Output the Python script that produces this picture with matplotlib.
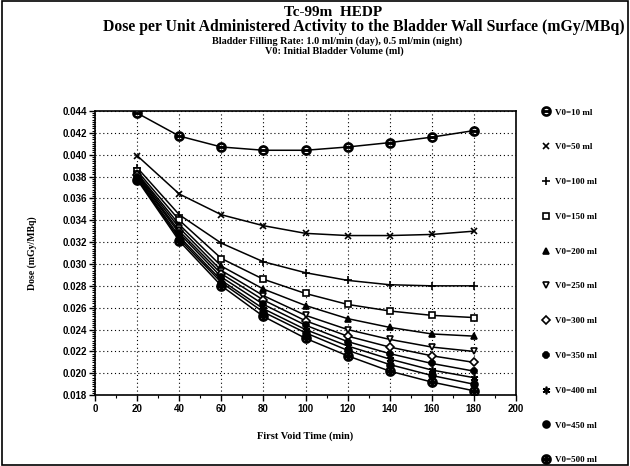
import matplotlib
matplotlib.use("Agg")
import matplotlib.pyplot as plt
from matplotlib.lines import Line2D
from matplotlib.patches import Rectangle
from matplotlib.ticker import MultipleLocator, FormatStrFormatter

# first void time (min)
void_time = [20, 40, 60, 80, 100, 120, 140, 160, 180]

# initial bladder volume labels
volumes = ["V0=10 ml", "V0=50 ml", "V0=100 ml", "V0=150 ml", "V0=200 ml", "V0=250 ml",
           "V0=300 ml", "V0=350 ml", "V0=400 ml", "V0=450 ml", "V0=500 ml"]

# dose per unit administered activity (mGy/MBq)
dose_v10 = [0.0438, 0.0417, 0.0407, 0.0404, 0.0404, 0.0407, 0.0411, 0.0416, 0.0422]
dose_v50 = [0.0399, 0.0364, 0.0345, 0.0335, 0.0328, 0.0326, 0.0326, 0.0327, 0.0330]
dose_v100 = [0.0388, 0.0345, 0.0319, 0.0302, 0.0292, 0.0285, 0.0281, 0.0280, 0.0280]
dose_v150 = [0.0385, 0.0340, 0.0305, 0.0286, 0.0273, 0.0263, 0.0257, 0.0253, 0.0251]
dose_v200 = [0.0383, 0.0336, 0.0298, 0.0277, 0.0262, 0.0250, 0.0242, 0.0236, 0.0234]
dose_v250 = [0.0382, 0.0333, 0.0294, 0.0271, 0.0253, 0.0240, 0.0231, 0.0224, 0.0220]
dose_v300 = [0.0381, 0.0330, 0.0291, 0.0267, 0.0248, 0.0234, 0.0224, 0.0216, 0.0210]
dose_v350 = [0.0380, 0.0328, 0.0288, 0.0263, 0.0244, 0.0229, 0.0218, 0.0209, 0.0202]
dose_v400 = [0.0379, 0.0325, 0.0285, 0.0259, 0.0240, 0.0225, 0.0213, 0.0203, 0.0196]
dose_v450 = [0.0378, 0.0323, 0.0283, 0.0256, 0.0237, 0.0221, 0.0208, 0.0198, 0.0190]
dose_v500 = [0.0377, 0.0321, 0.0280, 0.0252, 0.0232, 0.0216, 0.0202, 0.0192, 0.0184]

series = [dose_v10, dose_v50, dose_v100, dose_v150, dose_v200, dose_v250,
          dose_v300, dose_v350, dose_v400, dose_v450, dose_v500]

# (marker, filled, size)
markers = [
    (r"$\ominus$", True, 6.5), ("x", False, 4.5), ("+", False, 5.5), ("s", False, 4.5),
    ("^", True, 4.5), ("v", False, 5), ("D", False, 4), ("8", True, 4.5),
    ((6, 2, 0), False, 5.5), ("o", True, 5), (r"$\oplus$", True, 6.5),
]

serif = ["Liberation Serif", "DejaVu Serif"]

fig = plt.figure(figsize=(6.3, 4.66), dpi=100)
fig.patch.set_facecolor("white")
fig.patches.append(Rectangle((0.003, 0.003), 0.994, 0.994, transform=fig.transFigure,
                             fill=False, edgecolor="black", linewidth=1.2))

ax = fig.add_axes([0.151, 0.152, 0.668, 0.610])

handles = []
for vals, (mk, filled, ms), lab in zip(series, markers, volumes):
    face = "black" if filled else "white"
    ax.plot(void_time, vals, color="black", linewidth=1.1, marker=mk, markersize=ms,
            markerfacecolor=face, markeredgecolor="black", markeredgewidth=1.2, zorder=3)
    handles.append(Line2D([], [], linestyle="none", marker=mk, markersize=ms,
                          markerfacecolor=face, markeredgecolor="black",
                          markeredgewidth=1.2, label=lab))

ax.set_xlim(0, 200)
ax.set_ylim(0.018, 0.044)
ax.xaxis.set_major_locator(MultipleLocator(20))
ax.xaxis.set_minor_locator(MultipleLocator(10))
ax.yaxis.set_major_locator(MultipleLocator(0.002))
ax.yaxis.set_minor_locator(MultipleLocator(0.0002))
ax.yaxis.set_major_formatter(FormatStrFormatter("%.3f"))
ax.grid(True, which="major", linestyle=(0, (1, 2.5)), color="black", linewidth=0.8)
ax.set_axisbelow(True)

ax.tick_params(which="major", direction="out", length=4, width=1, labelsize=7, pad=2)
ax.tick_params(which="minor", direction="out", length=2, width=0.8)
for lab in ax.get_xticklabels() + ax.get_yticklabels():
    lab.set_fontweight("bold")
    lab.set_family(["Liberation Sans", "DejaVu Sans"])
for sp in ax.spines.values():
    sp.set_linewidth(1.2)

ax.set_xlabel("First Void Time (min)", fontsize=7.5, fontweight="bold", family=serif, labelpad=13)
ax.set_ylabel("Dose (mGy/MBq)", fontsize=7, fontweight="bold", family=serif, labelpad=18)

fig.text(0.528, 0.974, "Tc-99m  HEDP", ha="center", va="center", fontsize=11,
         fontweight="bold", family=serif)
fig.text(0.577, 0.942, "Dose per Unit Administered Activity to the Bladder Wall Surface (mGy/MBq)",
         ha="center", va="center", fontsize=11.3, fontweight="bold", family=serif)
fig.text(0.535, 0.911, "Bladder Filling Rate: 1.0 ml/min (day), 0.5 ml/min (night)",
         ha="center", va="center", fontsize=7.3, fontweight="bold", family=serif)
fig.text(0.530, 0.890, "V0: Initial Bladder Volume (ml)", ha="center", va="center",
         fontsize=7.3, fontweight="bold", family=serif)

leg = fig.legend(handles=handles, loc="upper left", bbox_to_anchor=(0.848, 0.785),
                 frameon=False, handlelength=0.8, handletextpad=0.6, labelspacing=2.93,
                 prop={"family": serif, "weight": "bold", "size": 6.5})

fig.savefig("out.png", dpi=100, facecolor="white")
